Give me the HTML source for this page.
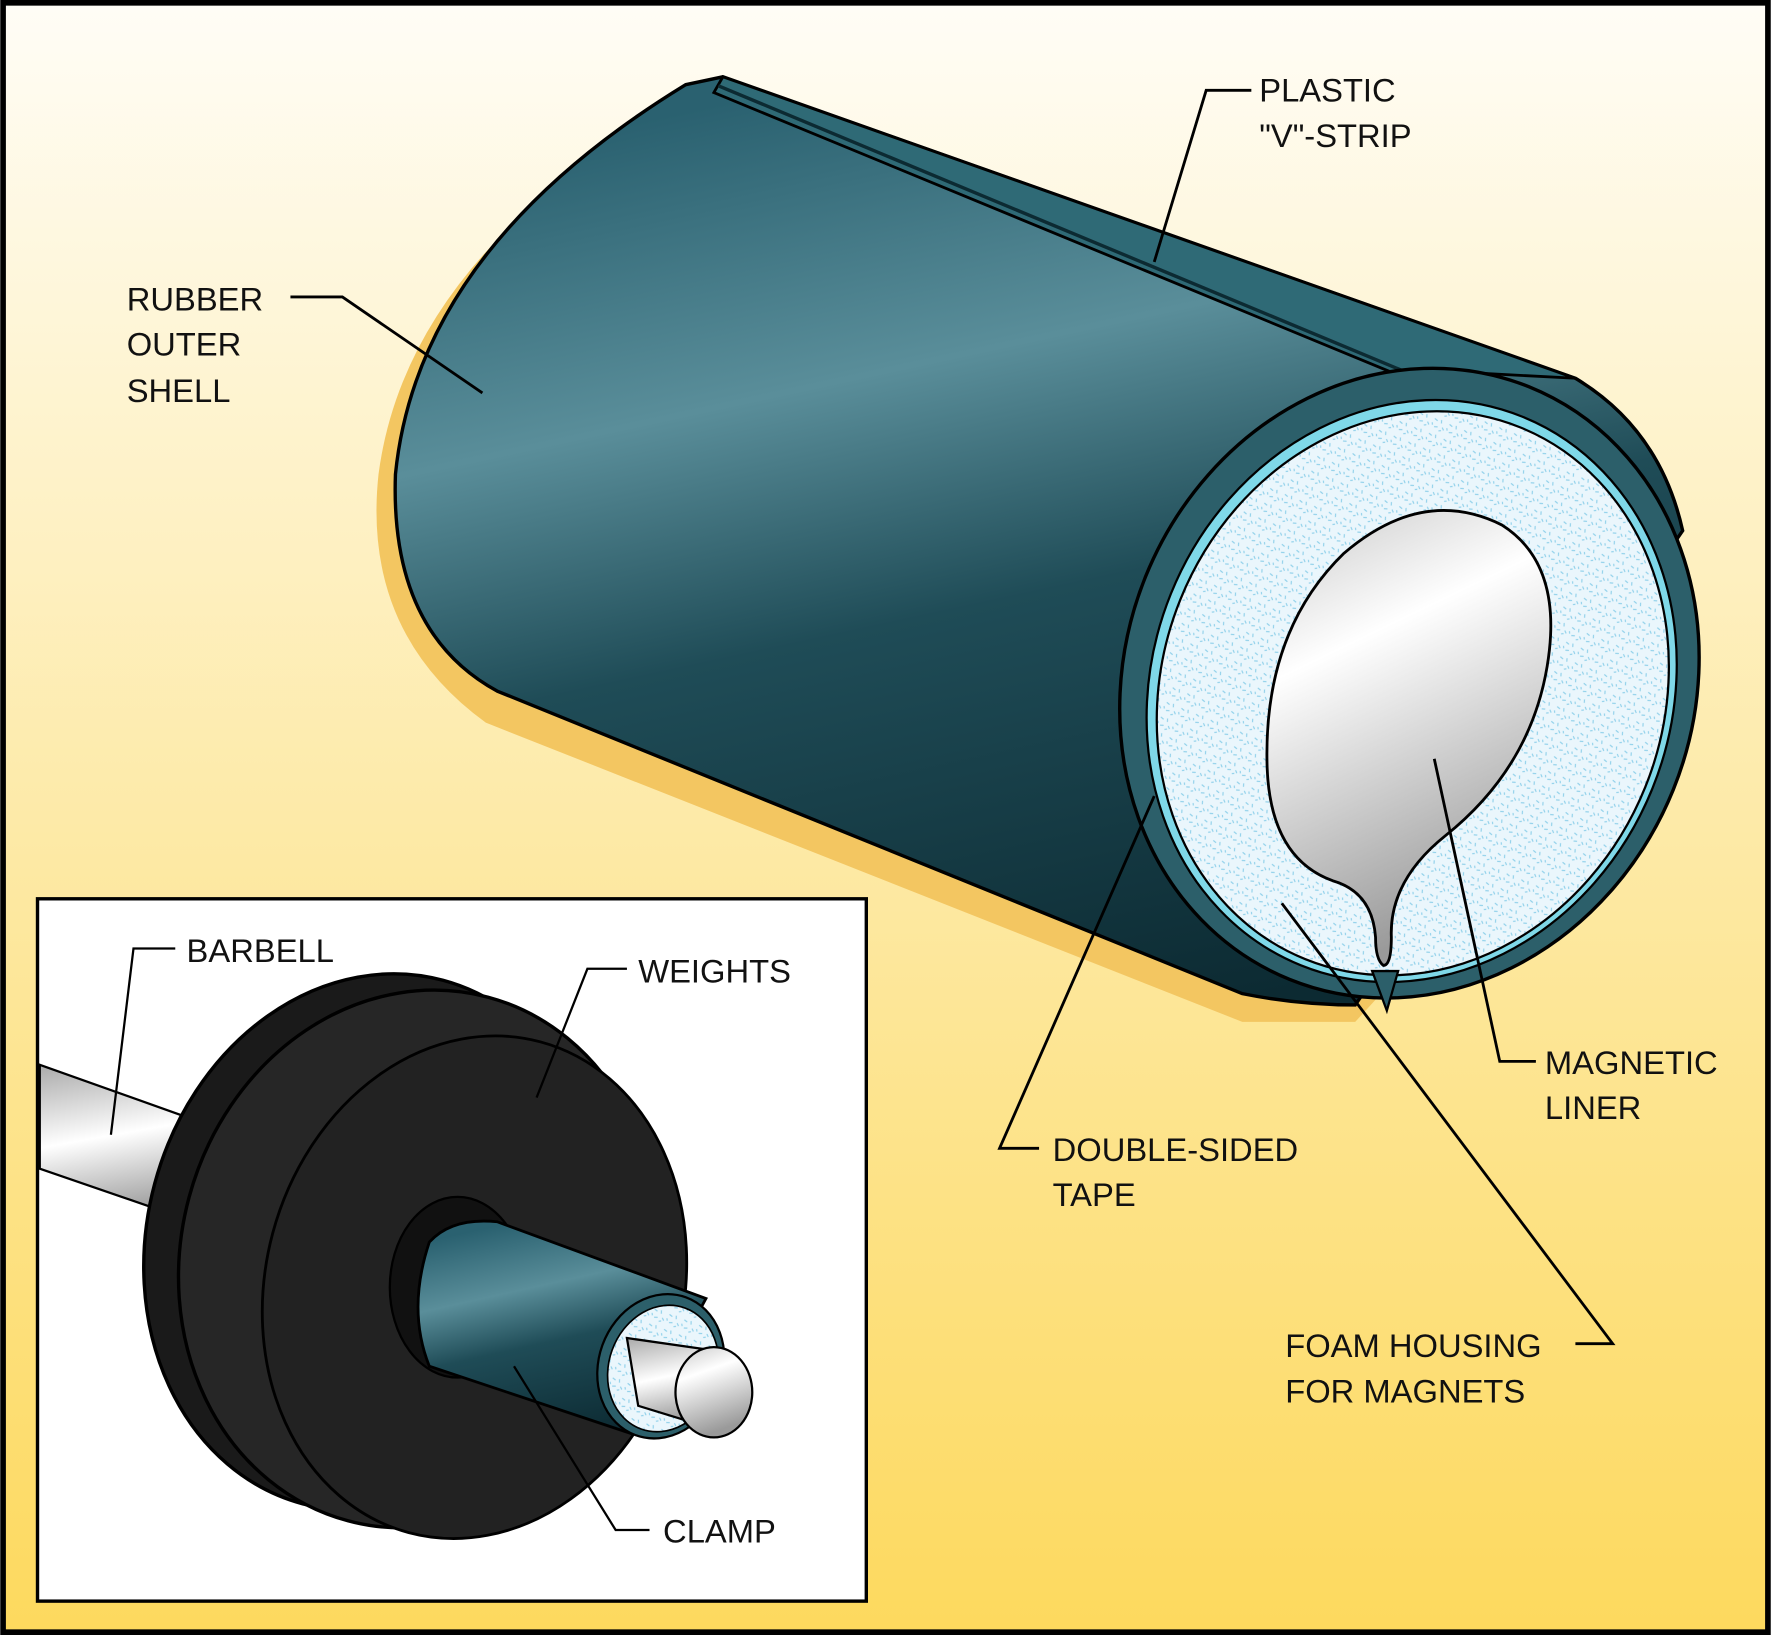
<!DOCTYPE html>
<html><head><meta charset="utf-8"><style>
html,body{margin:0;padding:0;background:#fff;}
svg{display:block;}
text{font-family:"Liberation Sans",sans-serif;font-size:29px;fill:#111;}
</style></head><body>
<svg width="1771" height="1635" viewBox="0 0 1568 1448" xmlns="http://www.w3.org/2000/svg">
<defs>
<linearGradient id="bg" x1="0" y1="0" x2="0" y2="1">
<stop offset="0" stop-color="#fffdf6"/><stop offset="0.5" stop-color="#fdeaa8"/><stop offset="1" stop-color="#fdd95e"/></linearGradient>
<linearGradient id="teal" x1="0.35" y1="0" x2="0.65" y2="1">
<stop offset="0" stop-color="#2a6170"/><stop offset="0.3" stop-color="#5a8e9a"/><stop offset="0.55" stop-color="#1f4c57"/><stop offset="1" stop-color="#0c2a32"/></linearGradient>
<linearGradient id="metal" x1="0" y1="0" x2="0.3" y2="1">
<stop offset="0" stop-color="#c8c8c8"/><stop offset="0.35" stop-color="#ffffff"/><stop offset="1" stop-color="#9a9a9a"/></linearGradient>
<linearGradient id="bar" x1="0" y1="0" x2="0.2" y2="1">
<stop offset="0" stop-color="#aaa"/><stop offset="0.5" stop-color="#fff"/><stop offset="1" stop-color="#999"/></linearGradient>
<pattern id="foam" width="14" height="14" patternUnits="userSpaceOnUse">
<rect width="14" height="14" fill="#eaf6fc"/>
<path d="M2 3l3 1M8 2l1 3M11 8l2 2M4 10l3-1M9 12l2-1M1 7l1 2" stroke="#8fd0ea" stroke-width="1"/></pattern>
</defs>
<rect x="0" y="0" width="1568" height="1448" fill="#000"/>
<rect x="5" y="5" width="1558" height="1438" fill="url(#bg)"/>

<!-- shadow -->
<path d="M595,95 L1400,370 L1480,600 L1200,905 L1100,905 L430,640 Q320,560 335,420 Q360,230 595,95Z" fill="#f3c661"/>

<!-- cylinder body -->
<path d="M607,75 L640,68 L1395,335 Q1470,380 1490,470 L1200,890 Q1150,890 1100,880 L440,612 Q345,560 350,420 Q370,220 607,75Z" fill="url(#teal)" stroke="#000" stroke-width="3"/>
<!-- strip -->
<path d="M640,68 L1395,335 L1300,330 L1275,360 L1245,335 L632,82Z" fill="#2f6a76" stroke="#000" stroke-width="2.5"/>
<path d="M636,76 L1270,340" stroke="#0c2a32" stroke-width="3"/>
<!-- front end rim -->
<ellipse cx="1248" cy="605" rx="252" ry="283" transform="rotate(22 1248 605)" fill="#2c5f6a" stroke="#000" stroke-width="3"/>
<!-- tape -->
<ellipse cx="1250" cy="612" rx="230" ry="262" transform="rotate(22 1250 612)" fill="#7fd8e8" stroke="#000" stroke-width="2"/>
<!-- foam -->
<ellipse cx="1251" cy="614" rx="222" ry="254" transform="rotate(22 1251 614)" fill="url(#foam)" stroke="#000" stroke-width="2"/>
<!-- notch -->
<path d="M1215,860 L1228,895 L1238,860Z" fill="#2c5f6a" stroke="#000" stroke-width="2"/>
<!-- liner -->
<path d="M1180,780 Q1125,760 1122,680 Q1118,560 1190,490 Q1260,430 1330,465 Q1385,500 1370,590 Q1355,680 1280,740 Q1230,780 1232,830 Q1232,855 1225,855 Q1218,850 1218,830 Q1215,790 1180,780Z" fill="url(#metal)" stroke="#000" stroke-width="2.5"/>

<!-- labels main -->
<g stroke="#000" stroke-width="2.5" fill="none">
<path d="M257,263 L303,263 L427,348"/>
<path d="M1108,80 L1068,80 L1022,232"/>
<path d="M1022,705 L885,1017 L920,1017"/>
<path d="M1135,800 L1428,1190 L1395,1190"/>
<path d="M1270,672 L1328,940 L1360,940"/>
</g>
<text x="112" y="275">RUBBER</text>
<text x="112" y="315">OUTER</text>
<text x="112" y="356">SHELL</text>
<text x="1115" y="90">PLASTIC</text>
<text x="1115" y="130">"V"-STRIP</text>
<text x="932" y="1028">DOUBLE-SIDED</text>
<text x="932" y="1068">TAPE</text>
<text x="1138" y="1202">FOAM HOUSING</text>
<text x="1138" y="1242">FOR MAGNETS</text>
<text x="1368" y="951">MAGNETIC</text>
<text x="1368" y="991">LINER</text>

<!-- inset -->
<rect x="33" y="796" width="734" height="622" fill="#fff" stroke="#000" stroke-width="3"/>
<path d="M35,943 L195,1000 L180,1085 L35,1035Z" fill="url(#bar)" stroke="#000" stroke-width="2"/>
<ellipse cx="330" cy="1100" rx="200" ry="240" transform="rotate(15 330 1100)" fill="#1a1a1a" stroke="#000" stroke-width="3"/>
<ellipse cx="370" cy="1115" rx="210" ry="240" transform="rotate(15 370 1115)" fill="#262626" stroke="#000" stroke-width="3"/>
<ellipse cx="420" cy="1140" rx="185" ry="225" transform="rotate(15 420 1140)" fill="#222" stroke="#000" stroke-width="2.5"/>
<ellipse cx="405" cy="1140" rx="60" ry="80" fill="#111" stroke="#000" stroke-width="2"/>
<path d="M380,1100 Q400,1078 440,1082 L625,1150 L560,1270 L380,1210 Q360,1160 380,1100Z" fill="url(#teal)" stroke="#000" stroke-width="2.5"/>
<ellipse cx="585" cy="1210" rx="55" ry="65" transform="rotate(20 585 1210)" fill="#2c5f6a" stroke="#000" stroke-width="2"/>
<ellipse cx="587" cy="1212" rx="48" ry="57" transform="rotate(20 587 1212)" fill="url(#foam)" stroke="#000" stroke-width="1.5"/>
<path d="M555,1185 L625,1195 L630,1265 L565,1245Z" fill="url(#bar)" stroke="#000" stroke-width="2"/>
<ellipse cx="632" cy="1233" rx="34" ry="40" fill="url(#metal)" stroke="#000" stroke-width="2"/>
<g stroke="#000" stroke-width="2" fill="none">
<path d="M155,840 L118,840 L98,1005"/>
<path d="M555,858 L520,858 L475,972"/>
<path d="M575,1355 L545,1355 L455,1210"/>
</g>
<text x="165" y="852">BARBELL</text>
<text x="565" y="870">WEIGHTS</text>
<text x="587" y="1366">CLAMP</text>
</svg>
</body></html>
